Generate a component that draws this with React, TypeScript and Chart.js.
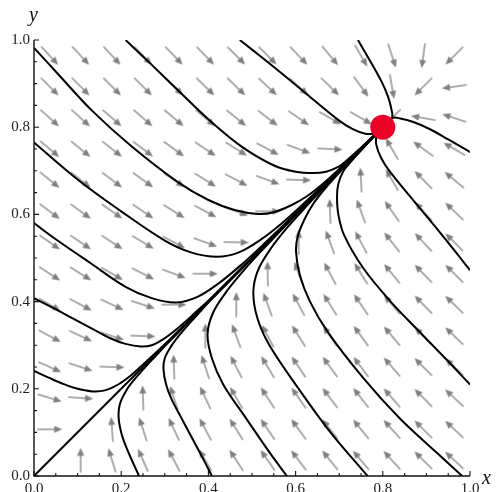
import React, { useEffect, useRef } from "react";
import { Chart, registerables } from "chart.js";

Chart.register(...registerables);

// ---- axis ticks ----
const tickValues = [0, 0.2, 0.4, 0.6, 0.8, 1.0];
const tickLabels = ["0.0", "0.2", "0.4", "0.6", "0.8", "1.0"];

// ---- fixed point ----
const fixedPoint = { x: 0.8, y: 0.8 };

// ---- direction-field arrows (grid positions and angles in degrees, rows from top) ----
const arrowGrid = [0.036, 0.107, 0.179, 0.25, 0.321, 0.393, 0.464, 0.536, 0.607, 0.679, 0.75, 0.821, 0.893, 0.964];
const arrowAngles: (number | null)[][] = [
  [-47, -47, -47, -46, -46, -46, -45, -45, -46, -50, -60, -72, -98, -135],
  [-45, -45, -45, -45, -44, -44, -44, -43, -42, -44, -54, -80, -135, -172],
  [-42, -42, -41, -41, -40, -40, -39, -38, -35, -30, -30, -135, 170, 162],
  [-40, -39, -38, -37, -36, -34, -32, -28, -20, -3, null, 120, 144, 150],
  [-39, -38, -37, -36, -34, -32, -28, -20, -2, null, 93, 120, 134, 140],
  [-37, -36, -35, -34, -32, -28, -20, 0, null, 92, 110, 125, 132, 136],
  [-35, -34, -33, -31, -28, -20, -1, null, 90, 110, 118, 128, 133, 135],
  [-33, -32, -30, -27, -20, 0, null, 91, 110, 118, 122, 129, 134, 135],
  [-30, -28, -25, -18, 0, null, 90, 110, 118, 122, 124, 130, 134, 136],
  [-28, -25, -18, -2, null, 90, 110, 118, 122, 124, 126, 130, 134, 136],
  [-24, -18, -2, null, 92, 108, 117, 121, 124, 126, 127, 131, 135, 136],
  [-17, -4, null, 92, 108, 115, 120, 123, 125, 127, 128, 131, 135, 137],
  [0, null, 94, 108, 115, 118, 122, 124, 126, 128, 129, 132, 135, 137],
  [null, 90, 107, 114, 118, 120, 123, 125, 127, 129, 130, 132, 135, 137],
];

// ---- streamlines [x, y] ----
const diagonal = [[0, 0], [0.4, 0.4], [0.8, 0.8]];
const fromLeft1 = [[0, 0.982], [0.055, 0.922], [0.133, 0.838], [0.225, 0.755], [0.33, 0.674], [0.4, 0.633], [0.46, 0.61], [0.514, 0.601], [0.55, 0.605], [0.59, 0.621], [0.625, 0.641], [0.66, 0.668], [0.7, 0.704], [0.75, 0.752], [0.8, 0.8]];
const fromLeft2 = [[0, 0.765], [0.1, 0.68], [0.2, 0.607], [0.3, 0.54], [0.36, 0.513], [0.42, 0.503], [0.47, 0.513], [0.52, 0.542], [0.57, 0.581], [0.62, 0.626], [0.67, 0.673], [0.74, 0.741], [0.8, 0.8]];
const fromLeft3 = [[0, 0.58], [0.05, 0.543], [0.13, 0.488], [0.21, 0.434], [0.27, 0.408], [0.325, 0.398], [0.375, 0.411], [0.425, 0.443], [0.475, 0.484], [0.525, 0.53], [0.6, 0.602], [0.7, 0.7005], [0.8, 0.8]];
const fromLeft4 = [[0, 0.408], [0.045, 0.385], [0.09, 0.361], [0.135, 0.337], [0.175, 0.316], [0.21, 0.303], [0.245, 0.297], [0.27, 0.3], [0.295, 0.313], [0.32, 0.331], [0.345, 0.352], [0.37, 0.375], [0.4, 0.402], [0.5, 0.501], [0.65, 0.6505], [0.8, 0.8]];
const fromLeft5 = [[0, 0.241], [0.035, 0.225], [0.07, 0.21], [0.1, 0.2], [0.135, 0.194], [0.165, 0.197], [0.195, 0.211], [0.22, 0.229], [0.245, 0.251], [0.27, 0.274], [0.3, 0.302], [0.4, 0.401], [0.6, 0.6005], [0.8, 0.8]];
const fromTop1 = [[0.21, 1.0], [0.266, 0.947], [0.335, 0.88], [0.4, 0.818], [0.477, 0.755], [0.553, 0.711], [0.6, 0.698], [0.64, 0.695], [0.67, 0.698], [0.7, 0.71], [0.72, 0.726], [0.75, 0.753], [0.78, 0.781], [0.8, 0.8]];
const fromTop2 = [[0.472, 1.0], [0.5, 0.978], [0.56, 0.93], [0.63, 0.872], [0.7, 0.815], [0.73, 0.796], [0.76, 0.785], [0.785, 0.785]];
const fromTop3 = [[0.743, 1.0], [0.772, 0.95], [0.797, 0.905], [0.812, 0.87], [0.82, 0.84], [0.821, 0.822], [0.8, 0.8]];
const fromBottom1 = [[0.241, 0], [0.225, 0.035], [0.21, 0.07], [0.2, 0.1], [0.194, 0.135], [0.197, 0.165], [0.211, 0.195], [0.229, 0.22], [0.251, 0.245], [0.274, 0.27], [0.302, 0.3], [0.401, 0.4], [0.6005, 0.6], [0.8, 0.8]];
const fromBottom2 = [[0.408, 0], [0.385, 0.045], [0.361, 0.09], [0.337, 0.135], [0.316, 0.175], [0.303, 0.21], [0.297, 0.245], [0.3, 0.27], [0.313, 0.295], [0.331, 0.32], [0.352, 0.345], [0.375, 0.37], [0.402, 0.4], [0.501, 0.5], [0.6505, 0.65], [0.8, 0.8]];
const fromBottom3 = [[0.58, 0], [0.543, 0.05], [0.488, 0.13], [0.434, 0.21], [0.408, 0.27], [0.398, 0.325], [0.411, 0.375], [0.443, 0.425], [0.484, 0.475], [0.53, 0.525], [0.602, 0.6], [0.7005, 0.7], [0.8, 0.8]];
const fromBottom4 = [[0.765, 0], [0.68, 0.1], [0.607, 0.2], [0.54, 0.3], [0.513, 0.36], [0.503, 0.42], [0.513, 0.47], [0.542, 0.52], [0.581, 0.57], [0.626, 0.62], [0.673, 0.67], [0.741, 0.74], [0.8, 0.8]];
const fromBottom5 = [[0.982, 0], [0.922, 0.055], [0.838, 0.133], [0.755, 0.225], [0.674, 0.33], [0.633, 0.4], [0.61, 0.46], [0.601, 0.514], [0.605, 0.55], [0.621, 0.59], [0.641, 0.625], [0.668, 0.66], [0.704, 0.7], [0.752, 0.75], [0.8, 0.8]];
const fromRight1 = [[1.0, 0.743], [0.95, 0.772], [0.905, 0.797], [0.87, 0.812], [0.84, 0.82], [0.822, 0.821], [0.8, 0.8]];
const fromRight2 = [[1.0, 0.472], [0.978, 0.5], [0.93, 0.56], [0.872, 0.63], [0.815, 0.7], [0.796, 0.73], [0.785, 0.76], [0.785, 0.785]];
const fromRight3 = [[1.0, 0.21], [0.947, 0.266], [0.88, 0.335], [0.818, 0.4], [0.755, 0.477], [0.711, 0.553], [0.698, 0.6], [0.695, 0.64], [0.698, 0.67], [0.71, 0.7], [0.726, 0.72], [0.753, 0.75], [0.781, 0.78], [0.8, 0.8]];

const streamlines = [
  diagonal, fromLeft1, fromLeft2, fromLeft3, fromLeft4, fromLeft5,
  fromTop1, fromTop2, fromTop3,
  fromBottom1, fromBottom2, fromBottom3, fromBottom4, fromBottom5,
  fromRight1, fromRight2, fromRight3,
];

const ARROW_GRAY = "#808080";

function makeArrowCanvas(): HTMLCanvasElement {
  const c = document.createElement("canvas");
  c.width = 26;
  c.height = 10;
  const g = c.getContext("2d")!;
  g.strokeStyle = ARROW_GRAY;
  g.fillStyle = ARROW_GRAY;
  g.lineWidth = 1.3;
  g.beginPath();
  g.moveTo(0.5, 5);
  g.lineTo(19, 5);
  g.stroke();
  g.beginPath();
  g.moveTo(25.5, 5);
  g.lineTo(17.5, 1.5);
  g.lineTo(17.5, 8.5);
  g.closePath();
  g.fill();
  return c;
}

const axesPlugin = {
  id: "axesDecor",
  afterDraw(chart: any) {
    const { ctx, chartArea: a, scales } = chart;
    const xs = scales.x;
    const ys = scales.y;
    ctx.save();
    ctx.strokeStyle = "#111";
    ctx.lineWidth = 1.4;
    ctx.beginPath();
    ctx.moveTo(a.left, a.top);
    ctx.lineTo(a.left, a.bottom);
    ctx.lineTo(a.right, a.bottom);
    ctx.stroke();
    ctx.lineWidth = 1.1;
    for (let k = 0; k <= 20; k++) {
      const v = k * 0.05;
      const len = k % 4 === 0 ? 5 : 3;
      const px = xs.getPixelForValue(v);
      const py = ys.getPixelForValue(v);
      ctx.beginPath();
      ctx.moveTo(px, a.bottom);
      ctx.lineTo(px, a.bottom - len);
      ctx.moveTo(a.left, py);
      ctx.lineTo(a.left + len, py);
      ctx.stroke();
    }
    ctx.fillStyle = "#111";
    ctx.font = 'italic 20px "Liberation Serif", "DejaVu Serif", serif';
    ctx.textAlign = "left";
    ctx.textBaseline = "alphabetic";
    ctx.fillText("y", a.left - 5, 21);
    ctx.fillText("x", a.right + 12, a.bottom + 8);
    ctx.restore();
  },
};

export default function App() {
  const canvasRef = useRef<HTMLCanvasElement | null>(null);

  useEffect(() => {
    const canvas = canvasRef.current;
    if (!canvas) return;
    const arrowImg = makeArrowCanvas();

    const arrowData: { x: number; y: number; a: number }[] = [];
    arrowAngles.forEach((row, j) => {
      row.forEach((ang, i) => {
        if (ang === null) return;
        arrowData.push({ x: arrowGrid[i], y: arrowGrid[13 - j], a: ang });
      });
    });

    const lineSets = streamlines.map((pts) => ({
      type: "scatter" as const,
      data: pts.map(([x, y]) => ({ x, y })),
      showLine: true,
      borderColor: "#000",
      borderWidth: 2,
      pointRadius: 0,
      tension: 0.35,
      fill: false,
      order: 2,
      borderJoinStyle: "round" as const,
    }));

    const chart = new Chart(canvas, {
      type: "scatter",
      data: {
        datasets: [
          {
            data: [fixedPoint],
            pointRadius: 12.5,
            pointBackgroundColor: "rgb(235,0,40)",
            pointBorderWidth: 0,
            order: 1,
          } as any,
          ...lineSets,
          {
            data: arrowData,
            pointStyle: arrowImg,
            pointRadius: 3,
            rotation: (c: any) => -(c.raw ? c.raw.a : 0),
            order: 3,
          } as any,
        ],
      },
      options: {
        responsive: false,
        animation: false,
        devicePixelRatio: 1,
        layout: { padding: { top: 40, right: 26, left: 0, bottom: 0 } },
        plugins: { legend: { display: false }, tooltip: { enabled: false } },
        events: [],
        scales: {
          x: {
            type: "linear",
            min: 0,
            max: 1,
            grid: { display: false, drawTicks: false },
            border: { display: false },
            afterFit: (s: any) => { s.height = 16; },
            afterBuildTicks: (s: any) => { s.ticks = tickValues.map((v) => ({ value: v })); },
            ticks: {
              autoSkip: false,
              maxRotation: 0,
              padding: 4,
              color: "#222",
              font: { family: '"Liberation Serif", serif', size: 15 },
              callback: (_v: any, i: number) => tickLabels[i],
            },
          },
          y: {
            type: "linear",
            min: 0,
            max: 1,
            grid: { display: false, drawTicks: false },
            border: { display: false },
            afterFit: (s: any) => { s.width = 34; },
            afterBuildTicks: (s: any) => { s.ticks = tickValues.map((v) => ({ value: v })); },
            ticks: {
              autoSkip: false,
              padding: 4,
              color: "#222",
              font: { family: '"Liberation Serif", serif', size: 15 },
              callback: (_v: any, i: number) => tickLabels[i],
            },
          },
        },
      } as any,
      plugins: [axesPlugin],
    });

    return () => chart.destroy();
  }, []);

  return (
    <div style={{ position: "absolute", left: 0, top: 0, width: 496, height: 492, background: "#fff" }}>
      <canvas ref={canvasRef} width={496} height={492} style={{ display: "block" }} />
    </div>
  );
}
